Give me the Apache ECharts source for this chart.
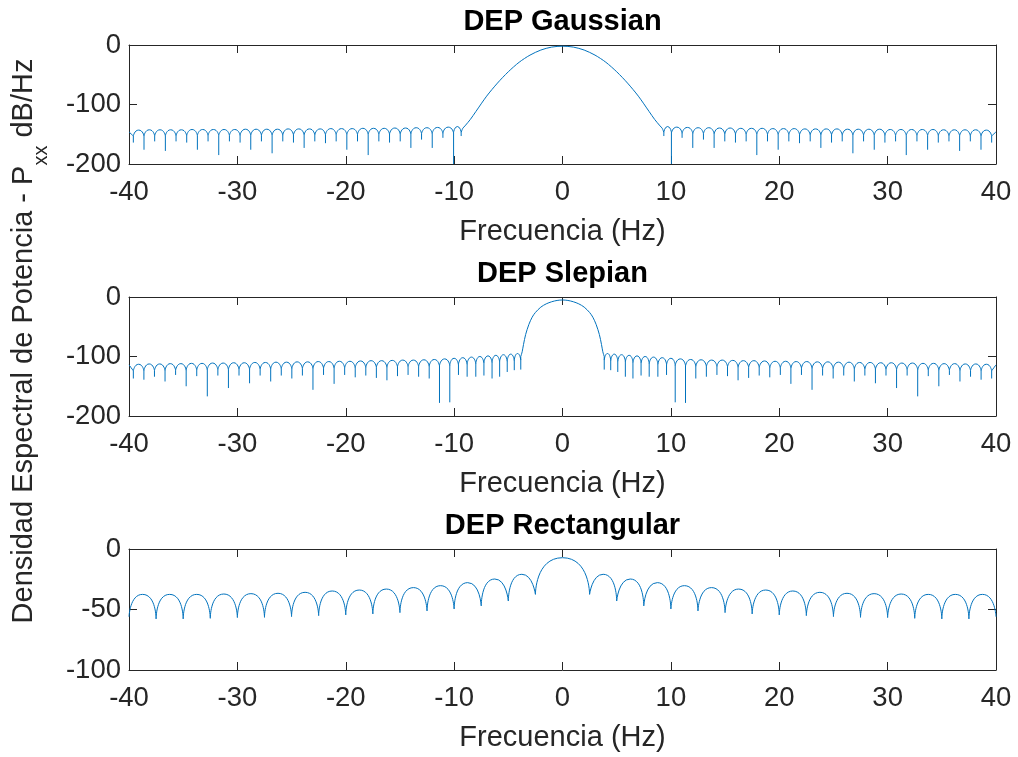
<!DOCTYPE html>
<html>
<head>
<meta charset="utf-8">
<title>DEP</title>
<script src="https://cdn.jsdelivr.net/npm/echarts@6/dist/echarts.min.js"></script>
<style>
  html, body { margin: 0; padding: 0; overflow: hidden; background: #fff; }
  #main { width: 1018px; height: 757px; }
</style>
</head>
<body>
<div id="main"></div>
<script type="text/javascript">
// solo frecuencias positivas (Hz); el espectro es simetrico y se refleja para f < 0

// DEP Gaussian
var gaussMainF  = [0, 1, 2, 3, 4, 5, 6, 7, 8, 8.5, 9, 9.2, 9.35];
var gaussMainDb = [-2, -3.5, -8.5, -17, -29, -45, -64, -86, -112, -125, -136, -140, -147];
var gaussNulls  = [9.35, 10.05, 11.035, 12.02, 13.005, 13.99, 14.975, 15.96, 16.945, 17.93, 18.915, 19.9,
                   20.885, 21.87, 22.855, 23.84, 24.825, 25.81, 26.795, 27.78, 28.765, 29.75, 30.735, 31.72,
                   32.705, 33.69, 34.675, 35.66, 36.645, 37.63, 38.615, 39.6];
var gaussDepths = [-153, -200, -156, -173, -159, -173, -162, -164, -162, -185, -162, -176,
                   -162, -165, -162, -173, -164, -162, -182, -162, -176, -164, -162, -185,
                   -162, -176, -164, -162, -178, -162, -176, -164];
var gaussPeaks  = [-137, -138, -138.5, -139, -139, -139.5, -139.5, -140, -140, -140, -140.5, -140.5,
                   -140.5, -141, -141, -141, -141, -141.5, -141.5, -141.5, -141.5, -142, -142, -142,
                   -142, -142, -142.5, -142.5, -142.5, -142.5, -143, -143];
var gaussEdge = -146;
var gaussArch = 10;

// DEP Slepian
var slepMainF  = [0, 0.5, 1, 1.5, 2, 2.5, 2.8, 3.1, 3.4, 3.6, 3.72, 3.85];
var slepMainDb = [-5, -5.8, -8, -11.5, -17, -26, -34, -46, -63, -80, -92, -100];
var slepNulls  = [3.85, 4.45, 5.1, 5.8, 6.5, 7.25, 8.0, 8.8, 9.6, 10.4, 11.35, 12.3, 13.275, 14.25,
                  15.225, 16.2, 17.175, 18.15, 19.125, 20.1, 21.075, 22.05, 23.025, 24.0, 24.975,
                  25.95, 26.925, 27.9, 28.875, 29.85, 30.825, 31.8, 32.775, 33.75, 34.725, 35.7,
                  36.675, 37.65, 38.625, 39.6];
var slepDepths = [-122, -123, -126, -134, -137, -132, -134, -134, -131, -177, -178, -137, -134, -131,
                  -133, -140, -136, -132, -135, -131, -146, -131, -156, -132, -137,
                  -132, -142, -132, -145, -132, -153, -132, -167, -133, -150, -131,
                  -142, -134, -139, -137];
var slepPeaks  = [-95, -96, -97, -98, -99, -100, -101, -102, -103, -104, -105, -105.5, -106, -106,
                  -106.5, -107, -107, -107.5, -108, -108, -108.5, -108.5, -109, -109, -109.5,
                  -109.5, -110, -110, -110.5, -110.5, -111, -111, -111.5, -111.5, -112, -112,
                  -112.5, -112.5, -113, -113];
var slepEdge = -114;
var slepArch = 11;

// DEP Rectangular
var rectMainPeak = -7.2;
var rectNulls  = [2.5, 5, 7.5, 10, 12.5, 15, 17.5, 20, 22.5, 25, 27.5, 30, 32.5, 35, 37.5, 40];
var rectDepths = [-37.5, -43, -47, -49.6, -51.2, -52.6, -53.7, -54.5, -55.1, -55.9, -56.5, -56.7,
                  -57.3, -57.8, -57.8, -56];
var rectPeaks  = [-20.9, -24.8, -27.8, -30.3, -31.9, -33.1, -33.9, -34.7, -35.8, -36.6, -36.9, -37.2,
                  -37.5, -37.5, -37.5];

var xTicks = [-40, 40, 10];
var yTicks = [[-200, 0, 100], [-200, 0, 100], [-100, 0, 50]];
var titles = ['DEP Gaussian', 'DEP Slepian', 'DEP Rectangular'];

var blue = '#0072BD';
var ink = '#262626';
var font = 'Liberation Sans, Arial, sans-serif';
var gap = ['-', '-'];

function mirror(f, db) {
	var pts = [];
	for (var i = f.length - 1; i > 0; i--) pts.push([-f[i], db[i]]);
	for (var j = 0; j < f.length; j++) pts.push([f[j], db[j]]);
	return pts;
}

// lobulos laterales: arco entre nulos y pico fino en cada nulo
function sideLobes(nulls, depths, peaks, edge, arch, mainEnd) {
	var arches = [], spikes = [];
	[1, -1].forEach(function (s) {
		for (var i = 0; i < nulls.length; i++) {
			var a = nulls[i], pk = peaks[i];
			if (i < nulls.length - 1) {
				var b = nulls[i + 1];
				arches.push([s * a, pk - arch], [s * (a + b) / 2, pk], [s * b, pk - arch], gap);
			} else {
				arches.push([s * a, pk - arch], [s * 40, edge], gap);
			}
			var top = i === 0 ? Math.max(mainEnd, pk - arch) : Math.max(peaks[i - 1], pk) - arch;
			spikes.push([s * a, top], [s * a, depths[i]], gap);
		}
	});
	return {arches: arches, spikes: spikes};
}

function rectCurve(nulls, depths, peaks, mainPeak) {
	var xs = [], ys = [], i;
	for (i = nulls.length - 1; i >= 0; i--) { xs.push(-nulls[i]); ys.push(depths[i]); }
	for (i = 0; i < nulls.length; i++) { xs.push(nulls[i]); ys.push(depths[i]); }
	var lobePeaks = peaks.slice().reverse().concat([mainPeak], peaks);
	var out = [];
	for (i = 0; i < xs.length - 1; i++) {
		out.push([xs[i], ys[i]], [(xs[i] + xs[i + 1]) / 2, lobePeaks[i]], [xs[i + 1], ys[i + 1]], gap);
	}
	return out;
}

function line(idx, data, smooth) {
	return {
		type: 'line', xAxisIndex: idx * 2, yAxisIndex: idx * 2, data: data,
		smooth: smooth, showSymbol: false, symbol: 'none', silent: true,
		lineStyle: {color: blue, width: 1}, animation: false
	};
}

var gauss = sideLobes(gaussNulls, gaussDepths, gaussPeaks, gaussEdge, gaussArch, gaussMainDb[gaussMainDb.length - 1]);
var slep = sideLobes(slepNulls, slepDepths, slepPeaks, slepEdge, slepArch, slepMainDb[slepMainDb.length - 1]);

var gridTops = [45, 297, 549];
var gridHeights = [119, 119, 121];
var grids = [], xAxes = [], yAxes = [], graphics = [];

for (var i = 0; i < 3; i++) {
	grids.push({left: 129, right: 22, top: gridTops[i], height: gridHeights[i], containLabel: false, outerBoundsMode: 'none'});
	['bottom', 'top'].forEach(function (pos) {
		xAxes.push({
			type: 'value', gridIndex: i, position: pos, min: xTicks[0], max: xTicks[1], interval: xTicks[2],
			axisLine: {show: true, onZero: false, lineStyle: {color: ink, width: 1}},
			axisTick: {show: true, inside: true, length: 8, lineStyle: {color: ink, width: 1}},
			axisLabel: {show: pos === 'bottom', margin: 14, fontSize: 27.5, color: ink, fontFamily: font,
				showMinLabel: true, showMaxLabel: true},
			splitLine: {show: false}
		});
	});
	['left', 'right'].forEach(function (pos) {
		yAxes.push({
			type: 'value', gridIndex: i, position: pos, min: yTicks[i][0], max: yTicks[i][1], interval: yTicks[i][2],
			axisLine: {show: true, onZero: false, lineStyle: {color: ink, width: 1}},
			axisTick: {show: true, inside: true, length: 8, lineStyle: {color: ink, width: 1}},
			axisLabel: {show: pos === 'left', margin: 8, fontSize: 27.5, color: ink, fontFamily: font,
				showMinLabel: true, showMaxLabel: true},
			splitLine: {show: false}
		});
	});
	graphics.push({
		type: 'text', x: 562.5, y: gridTops[i] - 23,
		style: {text: titles[i], fontSize: 29, fontWeight: 'bold', fontFamily: font, fill: '#000', align: 'center', verticalAlign: 'middle'}
	});
	graphics.push({
		type: 'text', x: 562.5, y: gridTops[i] + gridHeights[i] + 68,
		style: {text: 'Frecuencia (Hz)', fontSize: 29, fontFamily: font, fill: ink, align: 'center', verticalAlign: 'middle'}
	});
}

graphics.push({
	type: 'text', x: 24, y: 341, rotation: Math.PI / 2,
	style: {
		text: '{m|Densidad Espectral de Potencia - P}{s|xx}{m| dB/Hz}',
		fontFamily: font, fill: ink, align: 'center', verticalAlign: 'middle',
		rich: {
			m: {fontSize: 29, fontFamily: font, fill: ink, lineHeight: 54, verticalAlign: 'middle'},
			s: {fontSize: 20, fontFamily: font, fill: ink, lineHeight: 54, verticalAlign: 'bottom'}
		}
	}
});

var myChart = echarts.init(document.getElementById('main'));
myChart.setOption({
	animation: false,
	grid: grids,
	xAxis: xAxes,
	yAxis: yAxes,
	graphic: graphics,
	series: [
		line(0, mirror(gaussMainF, gaussMainDb), 0.3),
		line(0, gauss.arches, 0.8),
		line(0, gauss.spikes, 0),
		line(1, mirror(slepMainF, slepMainDb), 0.3),
		line(1, slep.arches, 0.8),
		line(1, slep.spikes, 0),
		line(2, rectCurve(rectNulls, rectDepths, rectPeaks, rectMainPeak), 1)
	]
});
</script>
</body>
</html>
